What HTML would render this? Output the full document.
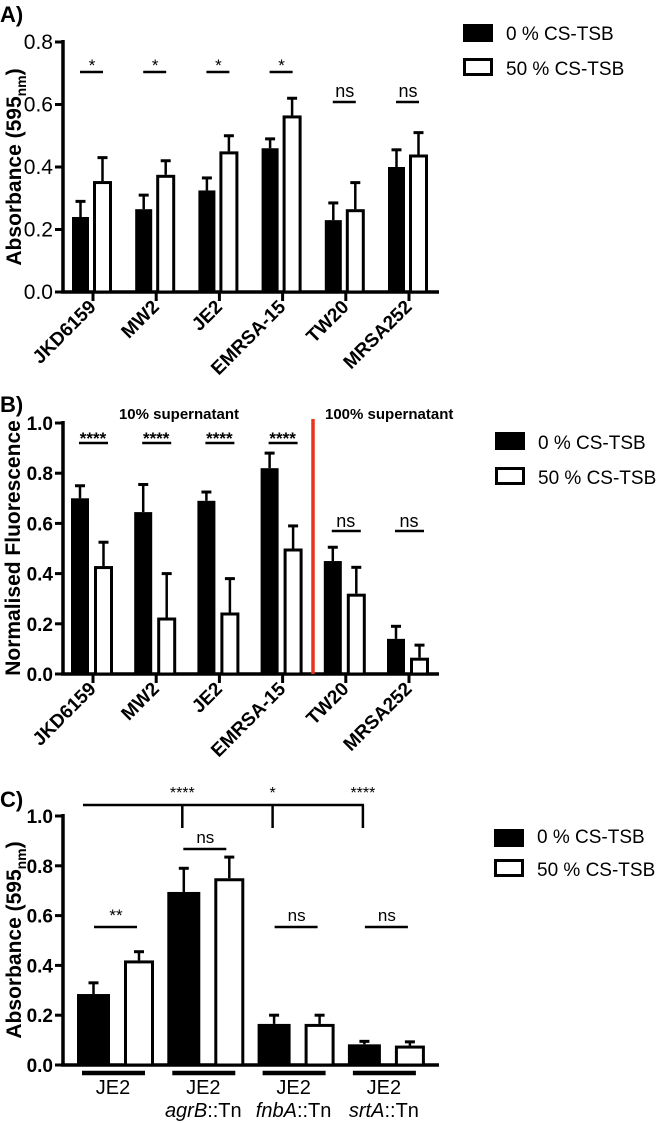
<!DOCTYPE html>
<html><head><meta charset="utf-8"><style>
html,body{margin:0;padding:0;background:#fff;}
svg{display:block;font-family:"Liberation Sans",Arial,sans-serif;}
</style></head><body>
<svg id="fig" width="664" height="1123" viewBox="0 0 664 1123"></svg>
<script>
// Panel A data
const catsA = ["JKD6159","MW2","JE2","EMRSA-15","TW20","MRSA252"];
const blackA = [0.24,0.265,0.325,0.46,0.23,0.40];
const blackErrA = [0.05,0.045,0.04,0.03,0.055,0.055];
const whiteA = [0.355,0.375,0.45,0.565,0.265,0.44];
const whiteErrA = [0.075,0.045,0.05,0.055,0.085,0.07];
const sigA = ["*","*","*","*","ns","ns"];
const ticksA = ["0.0","0.2","0.4","0.6","0.8"];
// Panel B data
const catsB = ["JKD6159","MW2","JE2","EMRSA-15","TW20","MRSA252"];
const blackB = [0.70,0.645,0.69,0.82,0.45,0.14];
const blackErrB = [0.05,0.11,0.035,0.06,0.055,0.05];
const whiteB = [0.43,0.225,0.245,0.50,0.32,0.065];
const whiteErrB = [0.095,0.175,0.135,0.09,0.105,0.05];
const sigB = ["****","****","****","****","ns","ns"];
const ticksB = ["0.0","0.2","0.4","0.6","0.8","1.0"];
// Panel C data
const catsC = ["JE2","JE2","JE2","JE2"];
const subC = ["","agrB","fnbA","srtA"];
const blackC = [0.285,0.695,0.165,0.083];
const blackErrC = [0.045,0.095,0.035,0.012];
const whiteC = [0.42,0.75,0.165,0.078];
const whiteErrC = [0.035,0.085,0.035,0.015];
const sigC = ["**","ns","ns","ns"];
const bracketC = ["****","*","****"];
const ticksC = ["0.0","0.2","0.4","0.6","0.8","1.0"];

const svg = document.getElementById('fig');
const NS = 'http://www.w3.org/2000/svg';
function mk(tag, attrs, text){
  const e = document.createElementNS(NS, tag);
  for (const k in attrs) e.setAttribute(k, attrs[k]);
  if (text !== undefined) e.textContent = text;
  svg.appendChild(e);
  return e;
}
function line(x1,y1,x2,y2,w){ return mk('line',{x1,y1,x2,y2,stroke:'#000','stroke-width':w||3}); }

function panel(o){
  const y = v => o.y0 - (v/o.max)*(o.y0-o.ytop);
  let e = line(63,o.ytop-2,63,o.y0+1.5,3.5);
  
  
  e = line(61,o.y0,439,o.y0,3.5);
  
  
  o.ticks.forEach((t,i)=>{
    const v = parseFloat(t), yy=y(v);
    line(55,yy,63,yy,3);
    const tx = mk('text',{x:53,y:yy+7,'text-anchor':'end','font-size':o.boldTicks?19:21,'font-weight':o.boldTicks?'bold':'normal'},t);
    
    
  });
  o.cats.forEach((c,i)=>{
    const cx = o.cx(i);
    const bv=o.black[i], wv=o.white[i];
    const b = mk('rect',{x:cx+o.bx0,y:y(bv),width:o.bw,height:o.y0-y(bv),fill:'#000'});
    
    
    const by = y(bv+o.bErr[i]);
    line(cx+o.bx0+o.bw/2,y(bv),cx+o.bx0+o.bw/2,by,2.5);
    line(cx+o.bx0+o.bw/2-5,by,cx+o.bx0+o.bw/2+5,by,3);
    const w = mk('rect',{x:cx+o.wx0+1.5,y:y(wv)+1.5,width:o.ww-3,height:Math.max(0,o.y0-y(wv)-1.5),fill:'#fff',stroke:'#000','stroke-width':3});
    
    
    const wy = y(wv+o.wErr[i]);
    const wc = cx+o.wx0+o.ww/2;
    line(wc,y(wv),wc,wy,2.5);
    line(wc-5,wy,wc+5,wy,3);
  });
}

// ---------- Panel A ----------
mk('text',{x:0,y:22,'font-size':22,'font-weight':'bold'},'A)');
const cxA = i => 93 + i*63.2;
panel({id:'a',y0:292,ytop:42,max:0.8,ticks:ticksA,boldTicks:false,cats:catsA,black:blackA,bErr:blackErrA,white:whiteA,wErr:whiteErrA,cx:cxA,bx0:-21,bw:17,wx0:0,ww:19});
catsA.forEach((c,i)=>{
  const cx=cxA(i);
  line(cx,292,cx,301,3);
  const t = mk('text',{x:cx+4,y:308,'text-anchor':'end','font-size':19,'font-weight':'bold',transform:`rotate(-45 ${cx+4} 308)`},c);
  
  
  const s = sigA[i]==='ns';
  const ly = s?102:72;
  line(cx-13,ly,cx+10,ly,2.5);
  mk('text',{x:cx-1,y:s?97:71,'text-anchor':'middle','font-size':s?18:17},sigA[i]);
});
const ta = mk('text',{x:0,y:0,'font-size':21,'font-weight':'bold','text-anchor':'middle',transform:'translate(21 167) rotate(-90)'});

ta.innerHTML = 'Absorbance (595<tspan font-size="14" dy="5">nm</tspan><tspan dy="-5">)</tspan>';

function legend(id,x,y1,y2,tx,b1,b2){
  let r = mk('rect',{x:x,y:y1,width:30,height:18,fill:'#000'});
  
  
  r = mk('rect',{x:x+1.5,y:y2+1.5,width:27,height:15,fill:'#fff',stroke:'#000','stroke-width':3});
  
  
  let t = mk('text',{x:tx,y:b1,'font-size':19},'0 % CS-TSB');
  
  
  t = mk('text',{x:tx,y:b2,'font-size':19},'50 % CS-TSB');
  
  
}
legend('a',463,24,58,506,40,75);

// ---------- Panel B ----------
mk('text',{x:0,y:412,'font-size':22,'font-weight':'bold'},'B)');
const cxB = i => 93 + i*63.2;
panel({id:'b',y0:674,ytop:423,max:1.0,ticks:ticksB,boldTicks:true,cats:catsB,black:blackB,bErr:blackErrB,white:whiteB,wErr:whiteErrB,cx:cxB,bx0:-22,bw:18,wx0:1,ww:19});
const red = mk('line',{x1:313,y1:419,x2:313,y2:674,stroke:'#e8341c','stroke-width':3.5});


catsB.forEach((c,i)=>{
  const cx=cxB(i);
  line(cx,674,cx,683,3);
  const t = mk('text',{x:cx+4,y:690,'text-anchor':'end','font-size':19,'font-weight':'bold',transform:`rotate(-45 ${cx+4} 690)`},c);
  
  
  const s = sigB[i]==='ns';
  const ly = s?531:443;
  line(cx-14,ly,cx+15,ly,2.5);
  mk('text',{x:cx,y:s?527:444,'text-anchor':'middle','font-size':s?18:17,'font-weight':s?'normal':'bold'},sigB[i]);
});
mk('text',{x:179,y:419,'text-anchor':'middle','font-size':15,'font-weight':'bold'},'10% supernatant');
mk('text',{x:325,y:419,'font-size':15,'font-weight':'bold'},'100% supernatant');
mk('text',{x:0,y:0,'font-size':21,'font-weight':'bold','text-anchor':'middle',transform:'translate(20 548) rotate(-90)'},'Normalised Fluorescence');
legend('b',495,432,467,538,449,484);

// ---------- Panel C ----------
mk('text',{x:0,y:807,'font-size':22,'font-weight':'bold'},'C)');
const cxC = i => 115 + i*90.3;
panel({id:'c',y0:1065,ytop:816,max:1.0,ticks:ticksC,boldTicks:true,cats:catsC,black:blackC,bErr:blackErrC,white:whiteC,wErr:whiteErrC,cx:cxC,bx0:-38,bw:33,wx0:9,ww:30});
catsC.forEach((c,i)=>{
  const cx=cxC(i);
  line(cx-33,1073,cx+30,1073,4.5);
  const t = mk('text',{x:cx-2,y:1094,'text-anchor':'middle','font-size':20},c);
  
  
  if (subC[i]) {
    const t2 = mk('text',{x:cx-2,y:1117,'text-anchor':'middle','font-size':20});
    
    
    t2.innerHTML = '<tspan font-style="italic">'+subC[i]+'</tspan>::Tn';
  }
  const ly = i===1?849:927;
  const lx = i===1?cx-22:cx-21;
  line(lx,ly,lx+43,ly,2.5);
  mk('text',{x:lx+22,y:ly-6,'text-anchor':'middle','font-size':17},sigC[i]);
});
line(83,805,364,805,2.5);
bracketC.forEach((s,i)=>{
  const bx = cxC(i+1)-23;
  line(bx,805,bx,828,2.5);
  mk('text',{x:bx,y:798,'text-anchor':'middle','font-size':16},s);
});
const tc = mk('text',{x:0,y:0,'font-size':21,'font-weight':'bold','text-anchor':'middle',transform:'translate(21 940) rotate(-90)'});

tc.innerHTML = 'Absorbance (595<tspan font-size="14" dy="5">nm</tspan><tspan dy="-5">)</tspan>';
legend('c',494,829,859,537,843,876);
</script>
</body></html>
